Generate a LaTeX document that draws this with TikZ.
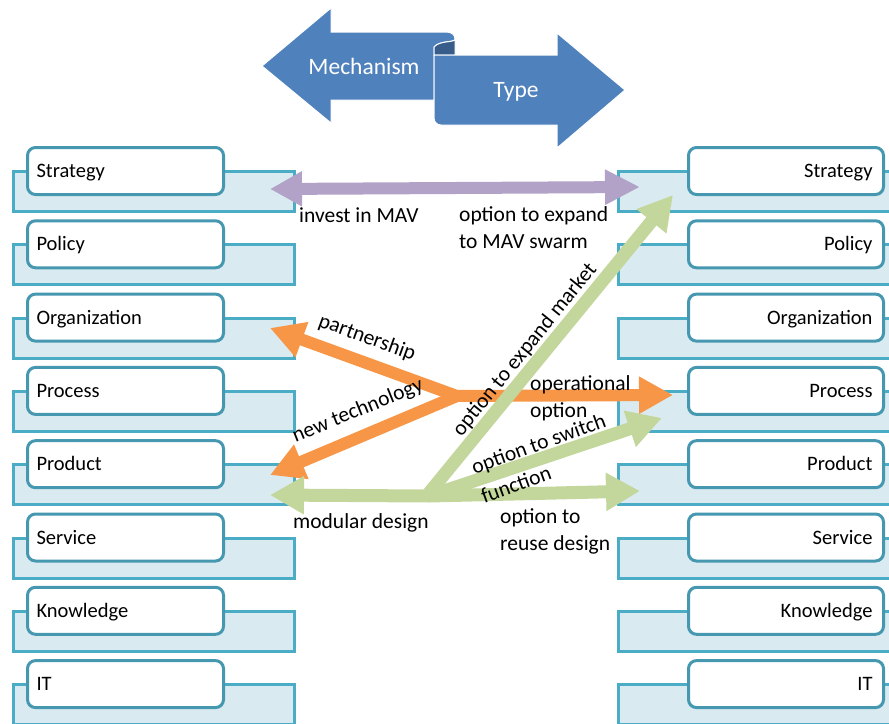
\documentclass[tikz,border=0pt]{standalone}
\usepackage{fontspec}
\setmainfont{Carlito}
\usetikzlibrary{arrows.meta}
\definecolor{shapeblue}{HTML}{4F81BD}
\definecolor{shapedark}{HTML}{385D8A}
\definecolor{tealline}{HTML}{4BACC6}
\definecolor{tealdark}{HTML}{4698B1}
\definecolor{panelfill}{HTML}{D9EBF1}
\definecolor{lilac}{HTML}{B3A2C7}
\definecolor{tangerine}{HTML}{F79646}
\definecolor{sage}{HTML}{C3D69B}
\begin{document}
\begin{tikzpicture}[x=1pt,y=-1pt,
  boxtxt/.style={font=\fontsize{20.5}{26.5}\selectfont},
  txt/.style={font=\fontsize{21.5}{26.5}\selectfont},
  lbl/.style={txt, inner sep=0pt, align=left, anchor=base west},
  rlbl/.style={txt, inner sep=0pt, anchor=center},
  backpanel/.style={draw=tealline, line width=3pt, fill=panelfill,
    minimum height=40pt, inner sep=0pt, anchor=north west},
  frontbox/.style={boxtxt, draw=tealdark, line width=3pt, fill=white,
    rounded corners=8pt, minimum height=47pt,
    inner ysep=0pt, text height=17pt, text depth=4pt, anchor=north west},
  frontL/.style={frontbox, text width=178pt, inner xsep=9pt, align=left},
  frontR/.style={frontbox, text width=173pt, inner xsep=11pt, align=right},
  bigarrow/.style={fill=shapeblue, draw=white, line width=1pt},
  lilacarrow/.style={draw=lilac, line width=12pt,
    {Triangle[length=32pt,width=33pt]}-{Triangle[length=35pt,width=33pt]}},
  orangearrow/.style={draw=tangerine, line width=12pt,
    -{Triangle[length=34pt,width=35pt]}},
  greenarrow/.style={draw=sage, line width=13pt,
    -{Triangle[length=34pt,width=36pt]}},
]
\useasboundingbox (0,0) rectangle (889,723);
\clip (0,0) rectangle (889,723);

% ---- layer panels: left column labelled on the left, right column on the right
\foreach \lab [count=\k from 0] in {Strategy,Policy,Organization,Process,Product,Service,Knowledge,IT} {
  \pgfmathsetmacro\ty{146+73.3*\k}
  \node[backpanel, minimum width=281pt] (LB\k) at (12,{\ty+24}) {};
  \node[backpanel, minimum width=320pt] (RB\k) at (617,{\ty+24}) {};
  \node[frontL] (L\k) at (26,\ty) {\lab};
  \node[frontR] (R\k) at (687,\ty) {\lab};
}

% ---- header ribbon: Mechanism (left) and Type (right)
\fill[bigarrow] (262,66) -- (331,8) -- (331,32) -- (446,32)
  .. controls (452,32) and (455,35) .. (455,39)
  .. controls (455,43) and (440,40) .. (434,47)
  -- (434,100) -- (331,100) -- (331,123) -- cycle;
\fill[shapedark, draw=white, line width=1pt] (434,47)
  .. controls (440,40) and (455,43) .. (455,39) -- (455,55) -- (434,55) -- cycle;
\fill[bigarrow] (434,55) -- (557,55) -- (557,33) -- (625,90) -- (557,148)
  -- (557,125) -- (441,125) .. controls (437,125) and (434,122) .. (434,118) -- cycle;
\node[font=\fontsize{23.5}{28}\selectfont, text=white, inner sep=0pt, anchor=base]
  (mech) at (364,74) {Mechanism};
\node[font=\fontsize{23.5}{28}\selectfont, text=white, inner sep=0pt, anchor=base]
  (type) at (516,97) {Type};

% ---- connector end points
\coordinate (pl) at (270,189);
\coordinate (pr) at (640,187);
\coordinate (oj) at (457,396);
\coordinate (oPart) at (270,328);
\coordinate (oTech) at (270,475);
\coordinate (oOper) at (673,395);
\coordinate (gj) at (429,496);
\coordinate (gMod) at (270,495);
\coordinate (gReuse) at (640,491);
\coordinate (gSwitch) at (662,418);
\coordinate (gMarket) at (673,195);

% ---- connectors
\draw[lilacarrow] (pl) -- (pr);
\draw[orangearrow] (oj) -- (oPart);
\draw[orangearrow] (oj) -- (oTech);
\draw[orangearrow] (oj) -- (oOper);
\draw[greenarrow] (gj) -- (gMod);
\draw[greenarrow] (gj) -- (gReuse);
\draw[greenarrow] (gj) -- (gSwitch);
\draw[greenarrow] ([yshift=3pt]gj) -- (gMarket);

% ---- connector labels (multi-line labels are placed by their last baseline)
\node[lbl] (tInvest) at (299,222) {invest in MAV};
\node[lbl] (tExpand) at (459,248) {option to expand\\to MAV swarm};
\node[rlbl, rotate=-20] (tPart) at (367,338) {partnership};
\node[rlbl, rotate=22] (tTech) at (358,411) {new technology};
\node[rlbl, rotate=51] (tMarket) at (525,350) {option to expand market};
\node[lbl] (tOper) at (530,417) {operational\\option};
\node[rlbl, rotate=20] (tSwitch) at (539,445) {option to switch};
\node[rlbl, rotate=20] (tFunc) at (516,484) {function};
\node[lbl] (tMod) at (293,528) {modular design};
\node[lbl] (tReuse) at (500,550) {option to\\reuse design};
\end{tikzpicture}
\end{document}
